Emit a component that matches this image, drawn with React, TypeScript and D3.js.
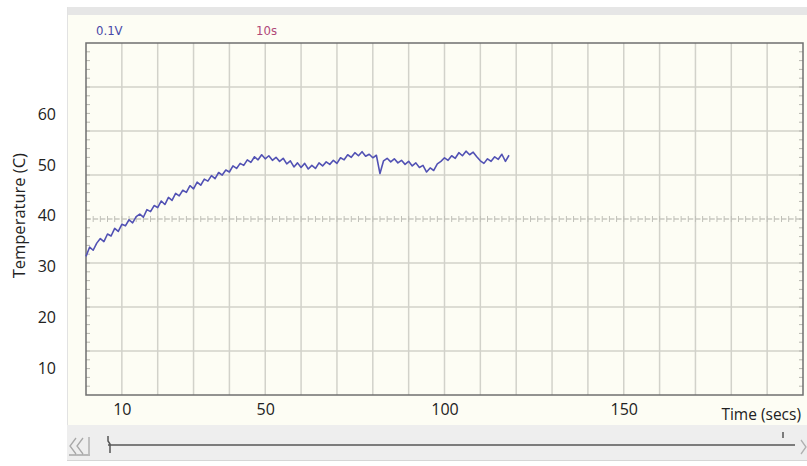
import React, { useEffect, useRef } from 'react';
import * as d3 from 'd3';

// readings taken once a second from the scope trace
const seconds = [
  0, 1, 2, 3, 4, 5, 6, 7, 8, 9, 10, 11, 12, 13, 14, 15, 16, 17, 18, 19,
  20, 21, 22, 23, 24, 25, 26, 27, 28, 29, 30, 31, 32, 33, 34, 35, 36, 37, 38, 39,
  40, 41, 42, 43, 44, 45, 46, 47, 48, 49, 50, 51, 52, 53, 54, 55, 56, 57, 58, 59,
  60, 61, 62, 63, 64, 65, 66, 67, 68, 69, 70, 71, 72, 73, 74, 75, 76, 77, 78, 79,
  80, 81, 82, 83, 84, 85, 86, 87, 88, 89, 90, 91, 92, 93, 94, 95, 96, 97, 98, 99,
  100, 101, 102, 103, 104, 105, 106, 107, 108, 109, 110, 111, 112, 113, 114, 115, 116, 117, 118,
];
const temperature = [
  32.0, 33.8, 33.2, 34.6, 35.5, 34.9, 36.4, 36.0, 37.5, 36.9, 38.3, 38.0, 39.2, 38.6, 39.8, 40.3, 39.7, 41.2, 40.8, 42.0,
  41.6, 42.9, 42.2, 43.6, 43.0, 44.4, 43.9, 45.0, 44.6, 45.9, 45.3, 46.6, 46.0, 47.2, 46.8, 47.9, 47.3, 48.5, 48.0, 49.0,
  48.6, 49.8, 49.3, 50.3, 49.9, 51.0, 50.5, 51.6, 51.0, 52.0, 51.2, 51.8, 50.9, 51.5, 50.7, 51.3, 50.2, 50.8, 49.6, 50.4,
  49.5, 50.3, 49.2, 49.9, 49.3, 50.4, 49.8, 50.6, 50.1, 50.9, 50.3, 51.4, 51.0, 52.0, 51.5, 52.4, 51.8, 52.6, 51.7, 52.1,
  51.4, 51.9, 48.3, 50.8, 51.3, 50.6, 51.2, 50.4, 50.9, 50.1, 50.7, 49.8, 50.4, 49.5, 49.9, 48.6, 49.4, 48.9, 50.2, 50.7,
  51.4, 50.9, 51.8, 51.3, 52.4, 51.8, 52.7, 52.0, 52.5, 51.6, 50.8, 50.3, 51.2, 50.7, 51.6, 51.1, 52.1, 50.7, 51.9,
];
const tempTicks = [10, 20, 30, 40, 50, 60];
const timeTicks = [10, 50, 100, 150];
const voltsLabel = '0.1V';
const timebaseLabel = '10s';

const font = '"Open Sans", sans-serif';

const App = () => {
  const svgRef = useRef(null);

  useEffect(() => {
    const svg = d3.select(svgRef.current);
    svg.selectAll('*').remove();

    const box = { left: 86, top: 43, right: 803, bottom: 395 };

    const x = d3.scaleLinear().domain([0, 200]).range([box.left, box.right]);
    const y = d3.scaleLinear().domain([4.7, 74]).range([box.bottom, box.top]);
    const div = d3.scaleLinear().domain([0, 8]).range([box.bottom, box.top]);

    // panel
    svg.append('rect').attr('x', 67).attr('y', 7).attr('width', 740).attr('height', 8).attr('fill', '#e6e6e6');
    svg.append('rect').attr('x', 67).attr('y', 15).attr('width', 740).attr('height', 410).attr('fill', '#fdfdf4');
    svg.append('line').attr('x1', 67.5).attr('x2', 67.5).attr('y1', 7).attr('y2', 460).attr('stroke', '#e2e2e2');

    svg.append('text').attr('x', 96).attr('y', 35).attr('fill', '#4848a8')
      .style('font', '13px "DejaVu Sans Condensed", sans-serif').text(voltsLabel);
    svg.append('text').attr('x', 256).attr('y', 35).attr('fill', '#b04878')
      .style('font', '13px "DejaVu Sans Condensed", sans-serif').text(timebaseLabel);

    // grid
    const grid = svg.append('g').attr('stroke', '#d2d2ca').attr('stroke-width', 1.5);
    grid.selectAll('.vg').data(d3.range(10, 200, 10)).enter().append('line')
      .attr('x1', d => x(d)).attr('x2', d => x(d)).attr('y1', box.top).attr('y2', box.bottom);
    grid.selectAll('.hg').data([1, 2, 3, 5, 6, 7]).enter().append('line')
      .attr('x1', box.left).attr('x2', box.right).attr('y1', d => div(d)).attr('y2', d => div(d));

    // centre line with minor ticks
    const mid = div(4);
    svg.append('line').attr('x1', box.left).attr('x2', box.right).attr('y1', mid).attr('y2', mid)
      .attr('stroke', '#c8c8c0').attr('stroke-width', 1.5).attr('stroke-dasharray', '5,2.17');
    svg.append('g').attr('stroke', '#c0c0b8').selectAll('line').data(d3.range(2, 200, 2)).enter().append('line')
      .attr('x1', d => x(d)).attr('x2', d => x(d)).attr('y1', mid - 3).attr('y2', mid + 3);

    // minor ticks on left / right borders
    const minor = d3.range(0.2, 8, 0.2);
    svg.append('g').attr('stroke', '#b8b8b0').selectAll('line').data(minor).enter().append('line')
      .attr('x1', box.left).attr('x2', box.left + 4).attr('y1', d => div(d)).attr('y2', d => div(d));
    svg.append('g').attr('stroke', '#b8b8b0').selectAll('line').data(minor).enter().append('line')
      .attr('x1', box.right - 4).attr('x2', box.right).attr('y1', d => div(d)).attr('y2', d => div(d));

    svg.append('rect').attr('x', box.left).attr('y', box.top)
      .attr('width', box.right - box.left).attr('height', box.bottom - box.top)
      .attr('fill', 'none').attr('stroke', '#6f6f6f').attr('stroke-width', 1.5);

    // trace
    const line = d3.line().x((d, i) => x(seconds[i])).y(d => y(d));
    svg.append('path').datum(temperature).attr('d', line)
      .attr('fill', 'none').attr('stroke', '#5252b4').attr('stroke-width', 1.6).attr('stroke-linejoin', 'round');

    // axes
    const yAxis = svg.append('g').attr('transform', 'translate(56,0)')
      .call(d3.axisLeft(y).tickValues(tempTicks).tickSize(0).tickPadding(0));
    yAxis.select('.domain').remove();
    yAxis.selectAll('text').style('font', `16px ${font}`).attr('fill', '#222');

    const xAxis = svg.append('g').attr('transform', 'translate(0,404)')
      .call(d3.axisBottom(x).tickValues(timeTicks).tickSize(0).tickPadding(0));
    xAxis.select('.domain').remove();
    xAxis.selectAll('text').style('font', `16px ${font}`).attr('fill', '#222');

    svg.append('text').attr('x', 801).attr('y', 420).attr('text-anchor', 'end')
      .style('font', `15.5px ${font}`).attr('fill', '#222').text('Time (secs)');
    svg.append('text').attr('transform', `translate(25,${y(40)}) rotate(-90)`).attr('text-anchor', 'middle')
      .style('font', `16.5px ${font}`).attr('fill', '#222').text('Temperature (C)');

    // scroll bar
    svg.append('rect').attr('x', 67).attr('y', 425).attr('width', 740).attr('height', 35).attr('fill', '#eeeeee');
    svg.append('line').attr('x1', 67).attr('x2', 807).attr('y1', 460.5).attr('y2', 460.5).attr('stroke', '#d6d6d6');
    svg.append('line').attr('x1', 108).attr('x2', 795).attr('y1', 445).attr('y2', 445)
      .attr('stroke', '#7c7c7c').attr('stroke-width', 2);
    svg.append('path').attr('d', 'M108,436V441L110,444V453').attr('fill', 'none').attr('stroke', '#555').attr('stroke-width', 1.5);
    svg.append('line').attr('x1', 783).attr('x2', 783).attr('y1', 432).attr('y2', 438).attr('stroke', '#555').attr('stroke-width', 1.5);
    svg.append('path').attr('d', 'M76,438L70,446L76,454M83,438L77,446L83,454M89,437V454M69,455H90')
      .attr('fill', 'none').attr('stroke', '#a8a8a8').attr('stroke-width', 1.3);
    svg.append('path').attr('d', 'M801,440L806,447L801,454').attr('fill', 'none').attr('stroke', '#b0b0b0').attr('stroke-width', 1.3);
  }, []);

  return (
    <svg ref={svgRef} width={807} height={466}
      style={{ position: 'absolute', left: 0, top: 0, display: 'block', background: '#fff' }} />
  );
};

export default App;
